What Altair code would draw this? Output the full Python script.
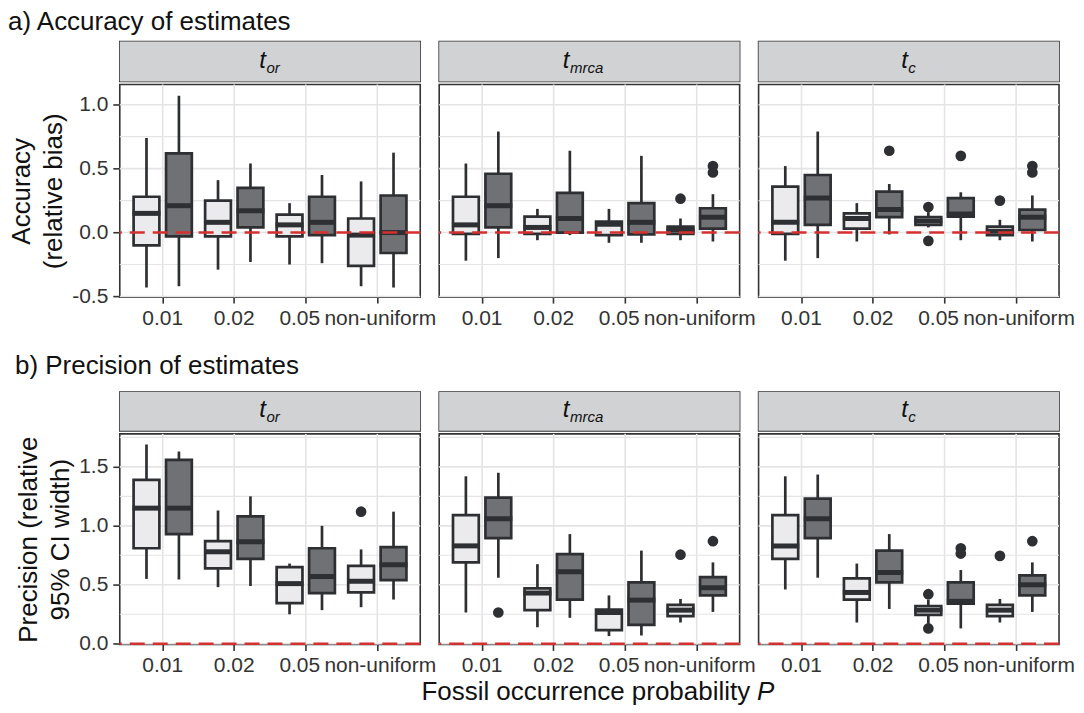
import altair as alt
import pandas as pd

categories = ["0.01", "0.02", "0.05", "non-uniform"]
groups = ["g1", "g2"]
strip_main = ["t", "t", "t"]
strip_sub = ["or", "mrca", "c"]

# five-number summaries (lower whisker, Q1, median, Q3, upper whisker)
# order: (0.01,g1),(0.01,g2),(0.02,g1),(0.02,g2),(0.05,g1),(0.05,g2),(nu,g1),(nu,g2)
acc_or = [(-0.43, -0.10, 0.15, 0.28, 0.74), (-0.42, -0.03, 0.21, 0.62, 1.07),
          (-0.29, -0.03, 0.08, 0.25, 0.41), (-0.23, 0.04, 0.17, 0.35, 0.54),
          (-0.25, -0.03, 0.06, 0.14, 0.23), (-0.24, -0.02, 0.08, 0.28, 0.45),
          (-0.42, -0.26, -0.02, 0.11, 0.40), (-0.43, -0.16, 0.00, 0.29, 0.625)]
acc_mrca = [(-0.22, -0.01, 0.06, 0.28, 0.54), (-0.20, 0.04, 0.21, 0.46, 0.79),
            (-0.06, -0.01, 0.04, 0.125, 0.185), (-0.02, 0.00, 0.11, 0.31, 0.64),
            (-0.08, -0.02, 0.065, 0.085, 0.185), (-0.08, -0.015, 0.08, 0.23, 0.60),
            (-0.06, -0.01, 0.02, 0.047, 0.11), (-0.07, 0.03, 0.12, 0.19, 0.30)]
acc_c = [(-0.22, -0.01, 0.08, 0.36, 0.52), (-0.20, 0.06, 0.27, 0.45, 0.79),
         (-0.07, 0.03, 0.11, 0.15, 0.23), (-0.015, 0.12, 0.18, 0.32, 0.38),
         (0.04, 0.06, 0.09, 0.12, 0.16), (-0.06, 0.125, 0.145, 0.27, 0.315),
         (-0.06, -0.02, 0.01, 0.047, 0.10), (-0.07, 0.02, 0.12, 0.18, 0.29)]
prec_or = [(0.55, 0.81, 1.15, 1.39, 1.69), (0.545, 0.93, 1.15, 1.56, 1.63),
           (0.48, 0.64, 0.78, 0.87, 1.13), (0.49, 0.72, 0.865, 1.08, 1.25),
           (0.25, 0.345, 0.51, 0.65, 0.68), (0.285, 0.43, 0.57, 0.81, 1.00),
           (0.31, 0.435, 0.53, 0.66, 0.80), (0.375, 0.54, 0.67, 0.82, 1.12)]
prec_mrca = [(0.265, 0.69, 0.83, 1.09, 1.42), (0.56, 0.895, 1.06, 1.24, 1.45),
             (0.14, 0.285, 0.43, 0.47, 0.675), (0.22, 0.375, 0.61, 0.76, 0.93),
             (0.065, 0.115, 0.265, 0.29, 0.41), (0.07, 0.16, 0.37, 0.52, 0.79),
             (0.18, 0.235, 0.285, 0.33, 0.38), (0.27, 0.41, 0.475, 0.565, 0.69)]
prec_c = [(0.46, 0.72, 0.83, 1.09, 1.42), (0.56, 0.895, 1.06, 1.23, 1.435),
          (0.18, 0.375, 0.435, 0.555, 0.68), (0.295, 0.52, 0.605, 0.79, 0.93),
          (0.17, 0.245, 0.285, 0.32, 0.375), (0.13, 0.34, 0.36, 0.52, 0.625),
          (0.18, 0.235, 0.285, 0.33, 0.38), (0.27, 0.41, 0.50, 0.58, 0.69)]

# outliers: (category, group, value)
acc_or_out = []
acc_mrca_out = [("non-uniform", "g1", 0.265), ("non-uniform", "g2", 0.52), ("non-uniform", "g2", 0.47)]
acc_c_out = [("0.02", "g2", 0.64), ("0.05", "g1", 0.20), ("0.05", "g1", -0.065), ("0.05", "g2", 0.60),
             ("non-uniform", "g1", 0.25), ("non-uniform", "g2", 0.52), ("non-uniform", "g2", 0.47)]
prec_or_out = [("non-uniform", "g1", 1.12)]
prec_mrca_out = [("0.01", "g2", 0.265), ("non-uniform", "g1", 0.755), ("non-uniform", "g2", 0.87)]
prec_c_out = [("0.05", "g1", 0.42), ("0.05", "g1", 0.13), ("0.05", "g2", 0.81), ("0.05", "g2", 0.765),
              ("non-uniform", "g1", 0.745), ("non-uniform", "g2", 0.87)]

acc_ticks = [-0.5, 0.0, 0.5, 1.0]
acc_grid = [-0.5, -0.25, 0.0, 0.25, 0.5, 0.75, 1.0]
prec_ticks = [0.0, 0.5, 1.0, 1.5]
prec_grid = [0.0, 0.25, 0.5, 0.75, 1.0, 1.25, 1.5, 1.75]

row_titles = ["a) Accuracy of estimates", "b) Precision of estimates"]
acc_ytitle = ["Accuracy", "(relative bias)"]
prec_ytitle = ["Precision (relative", "95% CI width)"]
xtitle_main = "Fossil occurrence probability"
xtitle_var = "P"

FONT = "Liberation Sans"
STROKE = "#2d2f33"
FILLS = ["#ebebed", "#707174"]
STRIP_FILL = "#d1d2d4"
GRID = "#e4e4e6"
RED = "#d3302f"
TXT = "#111111"
SUB_OFF = [-4, -20, -1]
PW = 301
LFS = 21


def stats_df(stats):
    rows = []
    i = 0
    for c in categories:
        for g in groups:
            lo, q1, md, q3, hi = stats[i]
            i += 1
            rows.append(dict(cat=c, grp=g, lo=lo, q1=q1, med=md, q3=q3, hi=hi))
    return pd.DataFrame(rows)


def strip(k, w, sh):
    df = pd.DataFrame({"t": [strip_main[k]], "s": [strip_sub[k]]})
    base = alt.Chart(df)
    bg = base.mark_rect(fill=STRIP_FILL).encode(
        x=alt.value(0), x2=alt.value(w), y=alt.value(0), y2=alt.value(sh))
    cx = w / 2 + SUB_OFF[k]
    t = base.mark_text(font=FONT, fontSize=24, fontStyle="italic", align="right",
                       baseline="alphabetic", color=TXT).encode(
        text="t:N", x=alt.value(cx), y=alt.value(sh / 2 + 6))
    s = base.mark_text(font=FONT, fontSize=15, fontStyle="italic", align="left",
                       baseline="alphabetic", color=TXT).encode(
        text="s:N", x=alt.value(cx + 0.5), y=alt.value(sh / 2 + 11))
    return alt.layer(bg, t, s).properties(width=w, height=sh)


LABEL_OFFSET = {
    "condition": [
        {"test": "datum.value === '0.05'", "value": -6},
        {"test": "datum.value === 'non-uniform'", "value": 3},
    ],
    "value": 0,
}


def plot_panel(stats, outs, ydom, yticks, ygrid, w, h, ytitle=None):
    df = stats_df(stats)
    yscale = alt.Scale(domain=ydom, nice=False, zero=False)
    if ytitle is not None:
        yaxis = alt.Axis(values=yticks, title=ytitle, grid=False, titleLineHeight=32,
                         titlePadding=5, tickSize=7, labelPadding=5,
                         labelExpr="datum.value < 0 ? '-' + format(-datum.value, '.1f') : format(datum.value, '.1f')")
    else:
        yaxis = None
    xscale = alt.Scale(domain=categories, paddingInner=0, paddingOuter=0.1)
    xaxis = alt.Axis(title=None, grid=False, labelAngle=0, labelOffset=LABEL_OFFSET)
    X = alt.X("cat:N", scale=xscale, axis=xaxis, sort=categories)
    XO = alt.XOffset("grp:N", scale=alt.Scale(domain=groups, paddingInner=0.205, paddingOuter=0.205))

    def Y(field):
        return alt.Y(field, type="quantitative", scale=yscale, axis=yaxis)

    gdf = pd.DataFrame({"gy": ygrid, "gw": [1.6 if v in yticks else 1.1 for v in ygrid]})
    hgrid = alt.Chart(gdf).mark_rule(color=GRID).encode(
        y=Y("gy"), strokeWidth=alt.StrokeWidth("gw:Q", scale=None))
    vgrid = alt.Chart(pd.DataFrame({"cat": categories})).mark_rule(
        color=GRID, strokeWidth=1.6).encode(x=X)
    whisk = alt.Chart(df).mark_rule(color=STROKE, strokeWidth=2.7).encode(
        x=X, xOffset=XO, y=Y("lo"), y2="hi")
    box = alt.Chart(df).mark_bar(stroke=STROKE, strokeWidth=2.7).encode(
        x=X, xOffset=XO, y=Y("q1"), y2="q3",
        fill=alt.Fill("grp:N", scale=alt.Scale(domain=groups, range=FILLS), legend=None))
    med = alt.Chart(df).mark_tick(color=STROKE, thickness=5, size=28, opacity=1).encode(
        x=X, xOffset=XO, y=Y("med"))
    layers = [hgrid, vgrid, whisk, box, med]
    if outs:
        odf = pd.DataFrame(outs, columns=["cat", "grp", "v"])
        layers.append(alt.Chart(odf).mark_circle(size=115, color=STROKE, opacity=1).encode(
            x=X, xOffset=XO, y=Y("v")))
    zero = alt.Chart(pd.DataFrame({"z": [0.0]})).mark_rule(
        color=RED, strokeDash=[15, 8], strokeWidth=2.4).encode(y=Y("z"))
    layers.append(zero)
    return alt.layer(*layers).properties(width=w, height=h)


def row(title, stats_list, outs_list, ydom, yticks, ygrid, ytitle, w, h, sh, toff):
    panels = []
    for k in range(3):
        p = plot_panel(stats_list[k], outs_list[k], ydom, yticks, ygrid, w, h,
                       ytitle=ytitle if k == 0 else None)
        panels.append(alt.vconcat(strip(k, w, sh), p, spacing=0))
    return alt.hconcat(*panels, spacing=0,
                       title=alt.TitleParams(title, anchor="start", fontSize=26, font=FONT,
                                             fontWeight="normal", color=TXT, offset=toff))


rowA = row(row_titles[0], [acc_or, acc_mrca, acc_c], [acc_or_out, acc_mrca_out, acc_c_out],
           [-0.505, 1.158], acc_ticks, acc_grid, acc_ytitle, PW, 213, 40, 6)
rowB = row(row_titles[1], [prec_or, prec_mrca, prec_c], [prec_or_out, prec_mrca_out, prec_c_out],
           [-0.006, 1.78], prec_ticks, prec_grid, prec_ytitle, PW, 211, 39, 12)

TW = 900
mid = PW + 19 + PW / 2
tdf = pd.DataFrame({"a": [xtitle_main], "b": [xtitle_var]})
xt1 = alt.Chart(tdf).mark_text(font=FONT, fontSize=26, align="right", baseline="alphabetic",
                               color=TXT).encode(text="a:N", x=alt.value(mid + 161), y=alt.value(22))
xt2 = alt.Chart(tdf).mark_text(font=FONT, fontSize=26, fontStyle="italic", align="left",
                               baseline="alphabetic", color=TXT).encode(
    text="b:N", x=alt.value(mid + 168), y=alt.value(22))
xtitle_chart = alt.layer(xt1, xt2).properties(width=TW, height=26,
                                              view=alt.ViewBackground(stroke=None))

chart = alt.concat(rowA, alt.vconcat(rowB, xtitle_chart, spacing=2),
                   columns=1, spacing=24, align="none").properties(
    padding={"left": 0, "top": 0, "right": 0, "bottom": 0}
).configure_view(
    stroke="#333333", strokeWidth=1.6
).configure_axis(
    labelFont=FONT, labelFontSize=LFS, labelColor="#333333",
    titleFont=FONT, titleFontSize=26, titleFontWeight="normal", titleColor=TXT,
    tickColor="#333333", tickWidth=1.6, tickSize=6, labelPadding=4, domain=False
)

chart.save("out.html", embed_options={"renderer": "svg", "actions": False})
